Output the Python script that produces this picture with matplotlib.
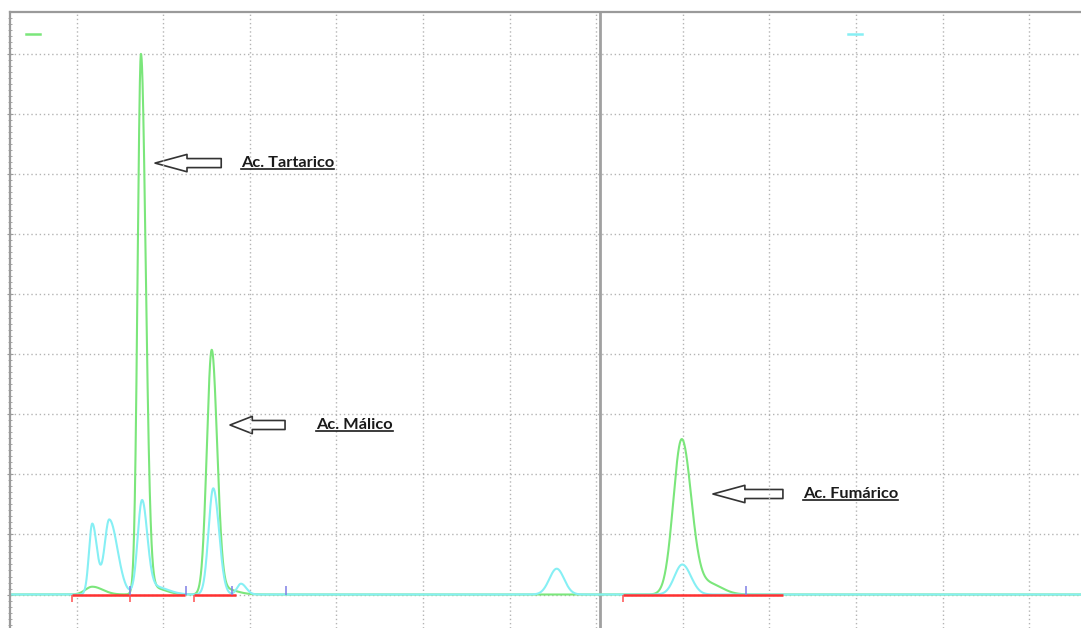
import numpy as np
import matplotlib.pyplot as plt
from matplotlib.patches import FancyArrowPatch
from matplotlib.lines import Line2D

# peaks: retention time (min), height (mAU), left / right width (min)
green_rt = [1.18, 1.742, 1.86, 2.559, 2.68, 7.986, 8.30]
green_h = [1.3, 89.5, 1.2, 40.3, 1.0, 25.7, 1.8]
green_sl = [0.08, 0.038, 0.10, 0.056, 0.10, 0.097, 0.15]
green_sr = [0.12, 0.055, 0.15, 0.062, 0.15, 0.110, 0.15]

cyan_rt = [1.18, 1.376, 1.754, 1.90, 2.577, 2.897, 6.543, 7.993]
cyan_h = [11.8, 12.5, 15.3, 1.3, 17.7, 1.8, 4.3, 5.0]
cyan_sl = [0.038, 0.055, 0.05, 0.10, 0.054, 0.045, 0.085, 0.09]
cyan_sr = [0.055, 0.095, 0.06, 0.15, 0.066, 0.06, 0.085, 0.10]

# integration baseline segments and peak start / end marks
base_segments = [(0.946, 2.251), (2.355, 2.84), (7.308, 9.155)]
start_marks = [0.946, 1.616, 2.355, 7.308]
end_marks = [1.616, 2.259, 2.793, 3.417, 8.725]

labels = ['Ac. Tartarico', 'Ac. Málico', 'Ac. Fumárico']
label_x = [2.897, 3.763, 9.386]
label_y = [71.9, 28.25, 16.75]
arrow_tail = [2.669, 3.406, 9.155]
arrow_tip = [1.905, 2.771, 8.347]
arrow_head = [2.3, 1.6, 2.3]

split_time = 7.043

GREEN = '#7be67b'
CYAN = '#86eff4'


def trace(t, rt, h, sl, sr):
    y = np.zeros_like(t)
    for c, a, l, r in zip(rt, h, sl, sr):
        s = np.where(t < c, l, r)
        y += a * np.exp(-0.5 * ((t - c) / s) ** 2)
    return y


t = np.linspace(0.2, 12.7, 6000)

fig = plt.figure(figsize=(10.81, 6.28), dpi=100)
ax = fig.add_axes([10 / 1081, 0, 1 - 10 / 1081, 1 - 12 / 628])
ax.set_xlim(0.230, 12.597)
ax.set_ylim(-5.583, 97.08)

ax.set_xticks(np.arange(1, 13))
ax.set_yticks(np.arange(0, 100, 10))
ax.set_yticks(np.arange(-5, 97, 1), minor=True)
ax.grid(True, color='#b4b4b4', linestyle=(0, (1, 2)), linewidth=1)
ax.tick_params(axis='x', length=0, labelbottom=False)
ax.tick_params(axis='y', which='both', direction='inout', labelleft=False,
               color='#999999')
ax.tick_params(axis='y', which='major', length=5)
ax.tick_params(axis='y', which='minor', length=3)
for side in ['right', 'bottom']:
    ax.spines[side].set_visible(False)
for side in ['left', 'top']:
    ax.spines[side].set_color('#9a9a9a')
    ax.spines[side].set_linewidth(1.6)

ax.axvline(split_time, color='#a0a0a0', lw=2)

g_line, = ax.plot(t, trace(t, green_rt, green_h, green_sl, green_sr),
                  color=GREEN, lw=1.5)
c_line, = ax.plot(t, trace(t, cyan_rt, cyan_h, cyan_sl, cyan_sr),
                  color=CYAN, lw=1.5)

for a, b in base_segments:
    ax.plot([a, b], [0, 0], color='#ff3030', lw=1.8, solid_capstyle='butt')
ax.vlines(start_marks, -1.3, 0, color='#ff5050', lw=1.1)
ax.vlines(end_marks, 0, 1.4, color='#7f7fe6', lw=1.1)

leg1 = ax.legend([Line2D([], [], color=GREEN, lw=1.8)], [''], loc='upper left',
                 bbox_to_anchor=(0.0056, 0.99), frameon=False, handlelength=1.0,
                 borderaxespad=0.3)
ax.add_artist(leg1)
ax.legend([Line2D([], [], color=CYAN, lw=1.8)], [''], loc='upper left',
          bbox_to_anchor=(0.7735, 0.99), frameon=False, handlelength=1.0,
          borderaxespad=0.3)

texts = []
for lab, x, y, a0, a1, hl in zip(labels, label_x, label_y,
                                 arrow_tail, arrow_tip, arrow_head):
    arr = FancyArrowPatch((a0, y), (a1, y),
                          arrowstyle='simple,head_length=%s,head_width=1.25,tail_width=0.65' % hl,
                          mutation_scale=10, shrinkA=0, shrinkB=0,
                          fc='white', ec='#333333', lw=1.2)
    ax.add_patch(arr)
    texts.append(ax.text(x, y, lab, ha='left', va='center', fontsize=11.8,
                         fontweight='bold', family=['Lato', 'DejaVu Sans'],
                         color='#1a1a1a'))

# underline the labels
fig.canvas.draw()
inv = ax.transData.inverted()
for txt in texts:
    bb = txt.get_window_extent()
    p0 = inv.transform((bb.x0, bb.y0 + 1))
    p1 = inv.transform((bb.x1, bb.y0 + 1))
    ax.plot([p0[0], p1[0]], [p0[1], p1[1]], color='#1a1a1a', lw=1.2)

fig.savefig('out.png', dpi=100)
